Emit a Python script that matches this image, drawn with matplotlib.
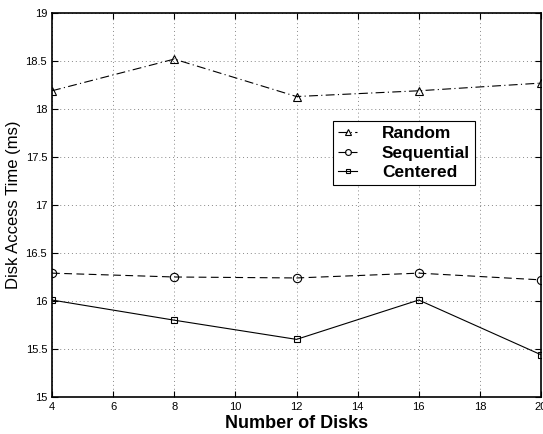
import matplotlib
matplotlib.use("Agg")
import matplotlib.pyplot as plt

plt.rcParams['font.family'] = ['Liberation Sans', 'DejaVu Sans']

disks = [4, 8, 12, 16, 20]
random_vals = [18.19, 18.52, 18.13, 18.19, 18.27]
sequential_vals = [16.29, 16.25, 16.24, 16.29, 16.22]
centered_vals = [16.01, 15.80, 15.60, 16.01, 15.44]

fig = plt.figure(figsize=(5.43, 4.34), dpi=100)
ax = fig.add_axes([0.0958, 0.0853, 0.9005, 0.8847])

ax.plot(disks, random_vals, color='black', linestyle=(0, (8, 3, 1, 3)), linewidth=0.8,
        marker='^', markersize=6, markerfacecolor='none', markeredgewidth=0.8, label='Random')
ax.plot(disks, sequential_vals, color='black', linestyle=(0, (7, 4)), linewidth=0.8,
        marker='o', markersize=6, markerfacecolor='none', markeredgewidth=0.8, label='Sequential')
ax.plot(disks, centered_vals, color='black', linestyle='-', linewidth=0.8,
        marker='s', markersize=5, markerfacecolor='none', markeredgewidth=0.8, label='Centered')

ax.set_xlim(4, 20)
ax.set_ylim(15, 19)
ax.set_xticks([4, 6, 8, 10, 12, 14, 16, 18, 20])
ax.set_yticks([15, 15.5, 16, 16.5, 17, 17.5, 18, 18.5, 19])
ax.set_yticklabels(['15', '15.5', '16', '16.5', '17', '17.5', '18', '18.5', '19'])
ax.tick_params(labelsize=8, direction='in', length=4, width=0.8)
ax.tick_params(top=True, right=True)
ax.grid(True, linestyle=(0, (1, 3)), color='#888888', linewidth=0.7)
for s in ax.spines.values():
    s.set_linewidth(1.2)

ax.set_xlabel('Number of Disks', fontsize=13, fontweight='bold', labelpad=2)
ax.set_ylabel('Disk Access Time (ms)', fontsize=12, labelpad=3)

leg = ax.legend(loc='upper left', bbox_to_anchor=(0.575, 0.719), borderaxespad=0,
                prop={'weight': 'bold', 'size': 12.5}, fancybox=False, framealpha=1,
                edgecolor='black', handlelength=1.1, borderpad=0.3, labelspacing=0.25,
                handletextpad=1.4, markerscale=0.7)
leg.get_frame().set_linewidth(0.8)

fig.savefig('out.png', dpi=100)
